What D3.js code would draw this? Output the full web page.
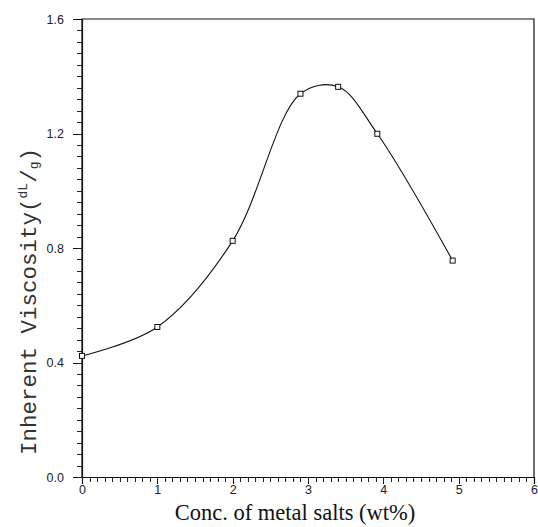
<!DOCTYPE html>
<html>
<head>
<meta charset="UTF-8">
<script src="https://cdnjs.cloudflare.com/ajax/libs/d3/7.8.5/d3.min.js"></script>
<style>
  body { margin: 0; background: #fff; }
  svg { display: block; }
  .tick text { font-family: "Liberation Sans", Arial, sans-serif; font-size: 12.5px; fill: #222; }
  .tick line { shape-rendering: crispEdges; }
</style>
</head>
<body>
<svg id="chart" width="538" height="527"></svg>
<script>
// data
const conc = [0, 1, 2, 2.9, 3.4, 3.92, 4.92];
const viscosity = [0.423, 0.524, 0.825, 1.339, 1.363, 1.199, 0.756];
const xTicks = [0, 1, 2, 3, 4, 5, 6];
const yTicks = [0.0, 0.4, 0.8, 1.2, 1.6];

const svg = d3.select("#chart");
const plotL = 82, plotR = 534, plotT = 19, plotB = 477;

const x = d3.scaleLinear().domain([0, 6]).range([plotL, plotR]);
const y = d3.scaleLinear().domain([0, 1.6]).range([plotB, plotT]);

// frame
svg.append("path")
  .attr("d", `M${plotL},${plotB}V${plotT}H${plotR}V${plotB}`)
  .attr("fill", "none").attr("stroke", "#111").attr("stroke-width", 1.2);

// x axis: minor every 0.1, major at integers
const xAxis = svg.append("g").attr("transform", `translate(0,${plotB})`)
  .call(d3.axisBottom(x).tickValues(xTicks).tickFormat(d3.format("d")).tickSize(7).tickPadding(1));
xAxis.select(".domain").attr("stroke", "#111").attr("stroke-width", 1.2);
svg.append("g").attr("transform", `translate(0,${plotB})`)
  .call(d3.axisBottom(x).tickValues(d3.range(0, 60).map(i => i / 10)).tickSize(5))
  .call(g => g.select(".domain").remove())
  .call(g => g.selectAll("text").remove())
  .selectAll("line").attr("stroke", "#222");

// y axis: minor every 0.04, major every 0.4
const yAxis = svg.append("g").attr("transform", `translate(${plotL},0)`)
  .call(d3.axisLeft(y).tickValues(yTicks).tickFormat(d3.format(".1f")).tickSize(9).tickPadding(9));
yAxis.select(".domain").attr("stroke", "#111").attr("stroke-width", 1.2);
svg.append("g").attr("transform", `translate(${plotL},0)`)
  .call(d3.axisLeft(y).tickValues(d3.range(0, 40).map(i => i * 0.04)).tickSize(5))
  .call(g => g.select(".domain").remove())
  .call(g => g.selectAll("text").remove())
  .selectAll("line").attr("stroke", "#222");

// smooth curve through the points
const pts = conc.map((c, i) => [c, viscosity[i]]);
const line = d3.line()
  .x(d => x(d[0])).y(d => y(d[1]))
  .curve(d3.curveCatmullRom.alpha(0.5));
svg.append("path").datum(pts)
  .attr("d", line)
  .attr("fill", "none").attr("stroke", "#111").attr("stroke-width", 1.1);

// open markers
svg.selectAll("rect.pt").data(pts).join("rect")
  .attr("class", "pt")
  .attr("x", d => x(d[0]) - 2.5).attr("y", d => y(d[1]) - 2.5)
  .attr("width", 5).attr("height", 5)
  .attr("fill", "#fff").attr("stroke", "#111").attr("stroke-width", 1);

// axis titles
svg.append("text")
  .attr("x", 295).attr("y", 520)
  .attr("text-anchor", "middle")
  .style("font-family", "'Liberation Serif', 'Times New Roman', serif")
  .style("font-size", "22.5px").style("fill", "#111")
  .text("Conc. of metal salts (wt%)");

const yl = svg.append("text")
  .attr("transform", "translate(36,455) rotate(-90)")
  .style("font-family", "'Liberation Mono', 'Courier New', monospace")
  .style("font-size", "22.5px").style("fill", "#333");
yl.append("tspan").text("Inherent Viscosity(");
yl.append("tspan").attr("dy", -9).style("font-size", "13px").text("dL");
yl.append("tspan").attr("dy", 9).style("font-size", "22.5px").text("/");
yl.append("tspan").attr("dy", 2).style("font-size", "13px").text("g");
yl.append("tspan").attr("dy", -2).style("font-size", "22.5px").text(")");
</script>
</body>
</html>
